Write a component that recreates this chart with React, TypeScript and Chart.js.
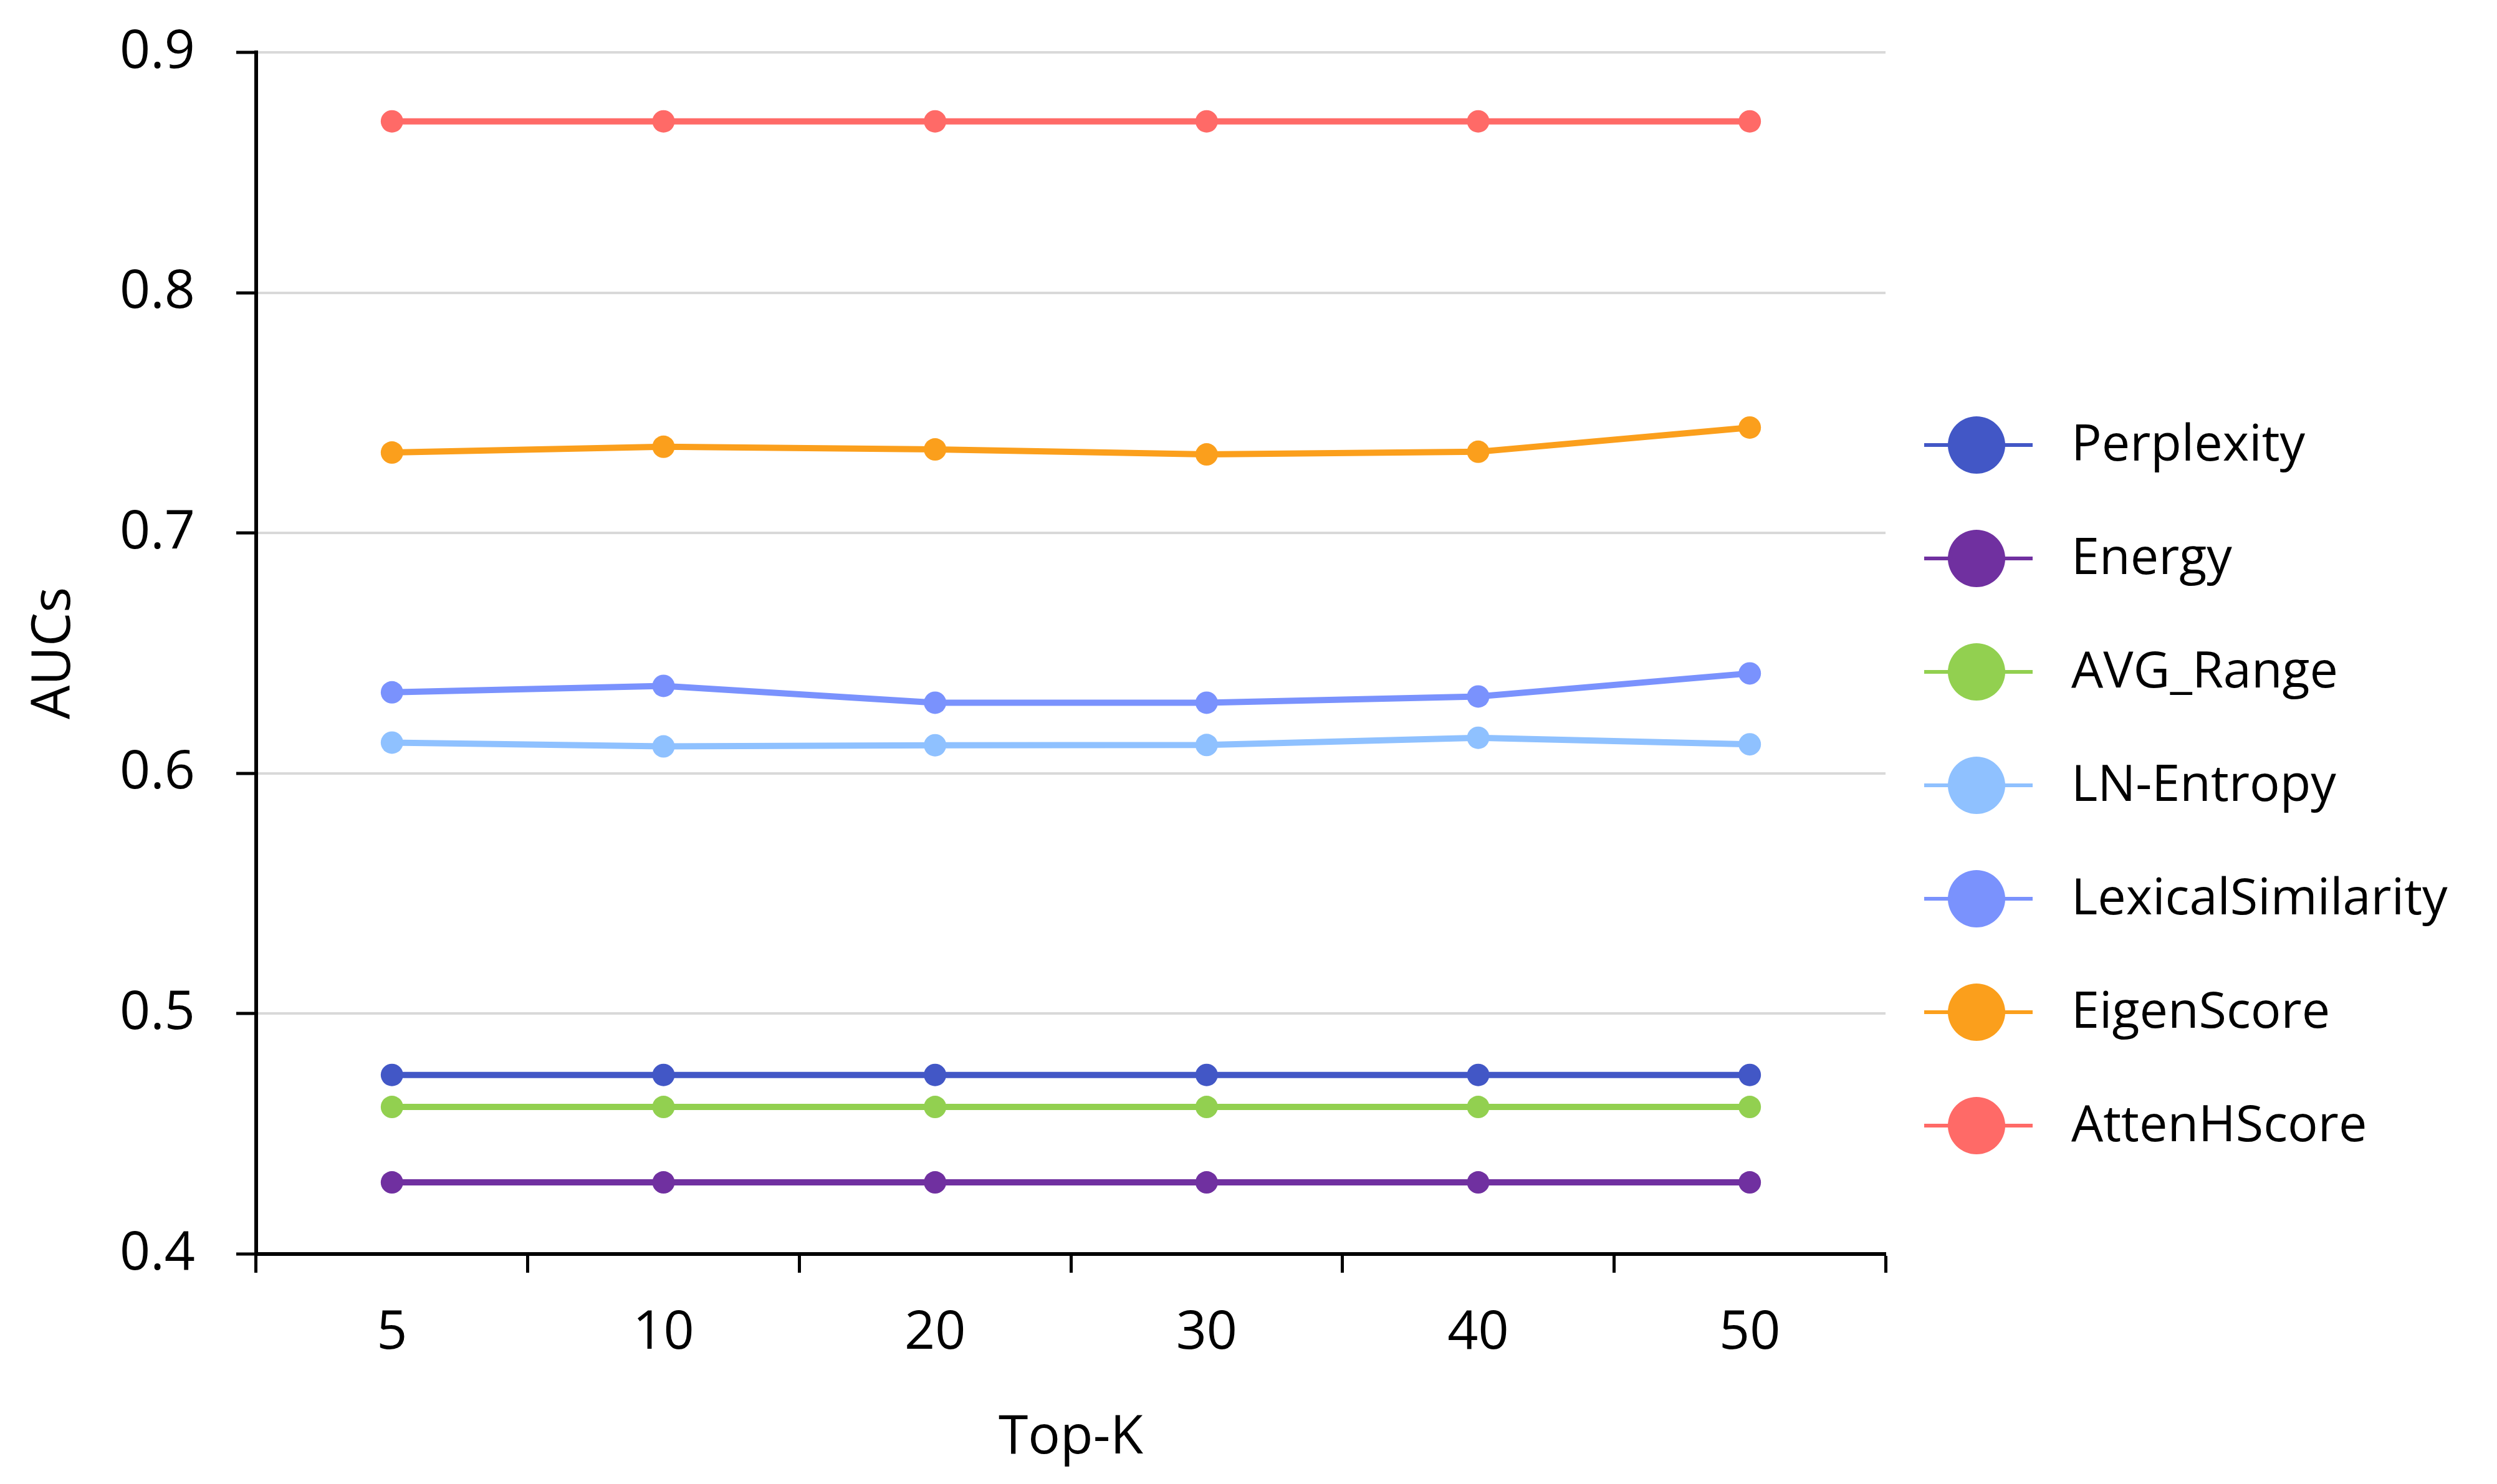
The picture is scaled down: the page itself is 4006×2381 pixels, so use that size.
import React, { useEffect, useRef } from 'react';
import { Chart, ChartConfiguration, Plugin, registerables } from 'chart.js';

Chart.register(...registerables);

const topK = ['5', '10', '20', '30', '40', '50'];
const seriesNames = ['Perplexity', 'Energy', 'AVG_Range', 'LN-Entropy', 'LexicalSimilarity', 'EigenScore', 'AttenHScore'];
const seriesColors = ['#4257c6', '#7030a0', '#92d050', '#8fc1ff', '#7a92fd', '#fb9f1c', '#ff6a67'];

const perplexity = [0.4745, 0.4745, 0.4745, 0.4745, 0.4745, 0.4745];
const energy = [0.4298, 0.4298, 0.4298, 0.4298, 0.4298, 0.4298];
const avgRange = [0.4612, 0.4612, 0.4612, 0.4612, 0.4612, 0.4612];
const lnEntropy = [0.6128, 0.6112, 0.6117, 0.6118, 0.6148, 0.6121];
const lexicalSimilarity = [0.6337, 0.6364, 0.6294, 0.6294, 0.632, 0.6416];
const eigenScore = [0.7335, 0.7359, 0.7348, 0.7327, 0.7338, 0.7439];
const attenHScore = [0.8713, 0.8713, 0.8713, 0.8713, 0.8713, 0.8713];

const yMin = 0.4;
const yMax = 0.9;
const yStep = 0.1;

const FONT = "'Open Sans', 'Noto Sans', sans-serif";

// legend drawn at the right side: line + big dot + label
const sideLegend: Plugin<'line'> = {
  id: 'sideLegend',
  afterDraw(chart) {
    const { ctx, chartArea } = chart;
    const lineLeft = chartArea.right + 62;
    const lineRight = lineLeft + 174;
    const dotX = lineLeft + 84;
    const textX = lineLeft + 236;
    const firstY = chartArea.top + 630;
    const gap = 182;
    ctx.save();
    ctx.font = `81px ${FONT}`;
    ctx.textBaseline = 'middle';
    ctx.textAlign = 'left';
    chart.data.datasets.forEach((ds, i) => {
      const y = firstY + i * gap;
      const color = ds.borderColor as string;
      ctx.strokeStyle = color;
      ctx.lineWidth = 6;
      ctx.beginPath();
      ctx.moveTo(lineLeft, y);
      ctx.lineTo(lineRight, y);
      ctx.stroke();
      ctx.fillStyle = color;
      ctx.beginPath();
      ctx.arc(dotX, y, 46, 0, Math.PI * 2);
      ctx.fill();
      ctx.fillStyle = '#000';
      ctx.fillText(ds.label as string, textX, y + 2);
    });
    ctx.restore();
  },
};

const App: React.FC = () => {
  const canvasRef = useRef<HTMLCanvasElement>(null);
  const chartRef = useRef<Chart | null>(null);

  useEffect(() => {
    document.body.style.margin = '0';
    document.body.style.overflow = 'hidden';
    const ctx = canvasRef.current?.getContext('2d');
    if (!ctx) return;

    Chart.defaults.font.family = FONT;
    Chart.defaults.color = '#000';

    const values = [perplexity, energy, avgRange, lnEntropy, lexicalSimilarity, eigenScore, attenHScore];

    const config: ChartConfiguration<'line'> = {
      type: 'line',
      data: {
        labels: topK,
        datasets: values.map((v, i) => ({
          label: seriesNames[i],
          data: v,
          borderColor: seriesColors[i],
          backgroundColor: seriesColors[i],
          pointBackgroundColor: seriesColors[i],
          pointBorderWidth: 0,
          pointRadius: 18,
          borderWidth: 10,
          tension: 0,
          fill: false,
        })),
      },
      options: {
        animation: false,
        responsive: true,
        maintainAspectRatio: false,
        layout: { padding: { top: 84, left: 0, right: 981, bottom: 0 } },
        plugins: {
          legend: { display: false },
          tooltip: { enabled: false },
        },
        scales: {
          x: {
            type: 'category',
            offset: true,
            afterFit: (scale) => {
              scale.height = 369;
            },
            grid: {
              display: true,
              offset: true,
              drawOnChartArea: false,
              drawTicks: true,
              tickLength: 30,
              tickColor: '#000',
              tickWidth: 5,
            },
            border: { display: true, color: '#000', width: 6 },
            ticks: { font: { size: 86 }, color: '#000', padding: 46 },
            title: {
              display: true,
              text: 'Top-K',
              font: { size: 86 },
              color: '#000',
              padding: { top: 0, bottom: 22 },
            },
          },
          y: {
            type: 'linear',
            min: yMin,
            max: yMax,
            afterFit: (scale) => {
              scale.width = 411;
              // labels have room above the plot already
              scale.paddingTop = 0;
              scale.paddingBottom = 0;
            },
            grid: {
              color: (c) => (Math.abs((c.tick?.value ?? 0) - yMin) < 1e-6 ? 'rgba(0,0,0,0)' : '#d9d9d9'),
              lineWidth: 4,
              drawTicks: true,
              tickLength: 32,
              tickColor: '#000',
              tickWidth: 5,
            },
            border: { display: true, color: '#000', width: 6 },
            ticks: {
              stepSize: yStep,
              font: { size: 86 },
              color: '#000',
              padding: 66,
              callback: (v) => Number(v).toFixed(1),
            },
            title: {
              display: true,
              text: 'AUCs',
              font: { size: 86 },
              color: '#000',
              padding: { top: 36, bottom: 0 },
            },
          },
        },
      },
      plugins: [sideLegend],
    };

    chartRef.current = new Chart(ctx, config);
    return () => {
      chartRef.current?.destroy();
    };
  }, []);

  return (
    <div style={{ position: 'relative', width: '4006px', height: '2381px', background: '#fff' }}>
      <canvas ref={canvasRef} />
    </div>
  );
};

export default App;
